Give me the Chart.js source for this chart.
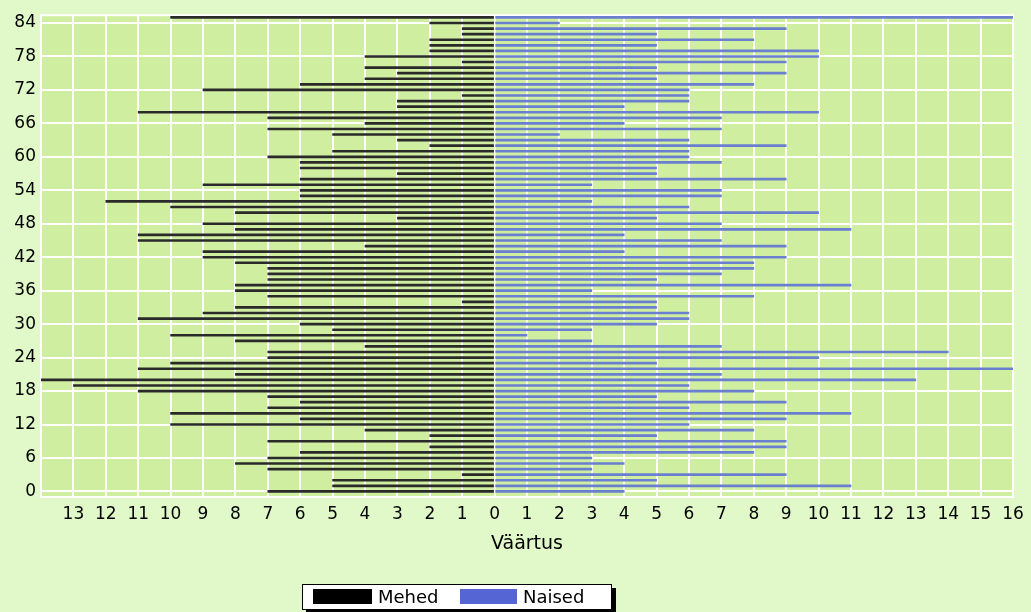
<!DOCTYPE html>
<html>
<head>
<meta charset="utf-8">
<title>Mehed / Naised</title>
<script src="https://cdn.jsdelivr.net/npm/chart.js@4.4.1/dist/chart.umd.min.js"></script>
<style>
  html, body { margin: 0; padding: 0; background: #e1f8c8; }
  #wrap { position: relative; width: 1031px; height: 612px; }
  #legend {
    position: absolute; left: 302px; top: 584px; width: 308px; height: 24px;
    background: #fff; border: 1px solid #000; box-shadow: 4px 4px 0 #000;
    font: 18px "DejaVu Sans", sans-serif; color: #000;
  }
  #legend .sw { position: absolute; top: 4px; height: 15px; }
  #legend .tx { position: absolute; top: 1px; line-height: 22px; }
</style>
</head>
<body>
<div id="wrap">
  <canvas id="chart" width="1031" height="612"></canvas>
  <div id="legend">
    <span class="sw" style="left:10px;width:59px;background:#000"></span>
    <span class="tx" style="left:75px">Mehed</span>
    <span class="sw" style="left:157px;width:57px;background:#5566d4"></span>
    <span class="tx" style="left:220px">Naised</span>
  </div>
</div>
<script>
// ages (categories), bottom to top
const ages = [0,1,2,3,4,5,6,7,8,9,10,11,12,13,14,15,16,17,18,19,20,21,22,23,24,25,26,27,28,29,
  30,31,32,33,34,35,36,37,38,39,40,41,42,43,44,45,46,47,48,49,50,51,52,53,54,55,56,57,58,59,
  60,61,62,63,64,65,66,67,68,69,70,71,72,73,74,75,76,77,78,79,80,81,82,83,84,85];

// men, drawn to the left
const mehed = [7,5,5,1,7,8,7,6,2,7, 2,4,10,6,10,7,6,7,11,13, 14,8,11,10,7,7,4,8,10,5,
  6,11,9,8,1,7,8,8,7,7, 7,8,9,9,4,11,11,8,9,3, 8,10,12,6,6,9,6,3,6,6,
  7,5,2,3,5,7,4,7,11,3, 3,1,9,6,4,3,4,1,4,2, 2,2,1,1,2,10];

// women, drawn to the right
const naised = [4,11,5,9,3,4,3,8,9,9, 5,8,6,9,11,6,9,5,8,6, 13,7,16,5,10,14,7,3,1,3,
  5,6,6,5,5,8,3,11,5,7, 8,8,9,4,9,7,4,11,7,5, 10,6,3,7,7,3,9,5,5,7,
  6,6,9,6,2,7,4,7,10,4, 6,6,6,8,5,9,5,9,10,10, 5,8,5,9,2,16];

const yTicks = [0,6,12,18,24,30,36,42,48,54,60,66,72,78,84];

const FONT = { family: '"DejaVu Sans", sans-serif', size: 17 };
const TITLE_FONT = { family: '"DejaVu Sans", sans-serif', size: 19 };

// plot background and white frame
const plotFrame = {
  id: 'plotFrame',
  beforeDraw(chart) {
    const { ctx, chartArea: a } = chart;
    ctx.save();
    ctx.fillStyle = '#d0eea0';
    ctx.fillRect(a.left, a.top, a.right - a.left, a.bottom - a.top);
    ctx.restore();
  },
  beforeDatasetsDraw(chart) {
    const { ctx, chartArea: a } = chart;
    ctx.save();
    ctx.strokeStyle = '#ffffff';
    ctx.lineWidth = 2;
    ctx.strokeRect(a.left, a.top, a.right - a.left, a.bottom - a.top);
    ctx.restore();
  }
};

new Chart(document.getElementById('chart'), {
  type: 'bar',
  data: {
    datasets: [
      {
        label: 'Mehed',
        data: ages.map((a, i) => ({ x: -mehed[i], y: a })),
        backgroundColor: '#2a2a2a',
        barThickness: 2,
        grouped: false
      },
      {
        label: 'Naised',
        data: ages.map((a, i) => ({ x: naised[i], y: a })),
        backgroundColor: '#6a7fd0',
        barThickness: 2,
        grouped: false
      }
    ]
  },
  options: {
    indexAxis: 'y',
    responsive: false,
    animation: false,
    layout: { padding: { top: 12, right: 18, left: 0, bottom: 0 } },
    plugins: {
      legend: { display: false },
      tooltip: { enabled: false }
    },
    scales: {
      x: {
        type: 'linear',
        min: -14,
        max: 16,
        ticks: {
          stepSize: 1,
          autoSkip: false,
          maxRotation: 0,
          padding: 7,
          color: '#000',
          font: FONT,
          callback: v => (v === -14 ? '' : Math.abs(v))
        },
        grid: { color: '#ffffff', lineWidth: 2, drawTicks: false },
        border: { display: false },
        title: {
          display: true,
          text: 'Väärtus',
          color: '#000',
          font: TITLE_FONT,
          padding: { top: 0, bottom: 57 }
        },
        afterFit: s => { s.height = 115; }
      },
      y: {
        type: 'linear',
        min: -1,
        max: 85.4,
        offset: false,
        afterBuildTicks: s => { s.ticks = yTicks.map(v => ({ value: v })); },
        ticks: { padding: 5, color: '#000', font: FONT },
        grid: { color: '#ffffff', lineWidth: 2, drawTicks: false, offset: false },
        border: { display: false },
        afterFit: s => { s.width = 41; }
      }
    }
  },
  plugins: [plotFrame]
});
</script>
</body>
</html>
